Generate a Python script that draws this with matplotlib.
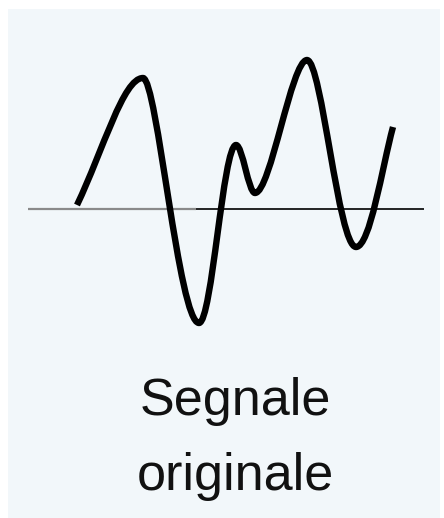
import matplotlib
matplotlib.use("Agg")
import matplotlib.pyplot as plt
from matplotlib.path import Path
from matplotlib.patches import PathPatch, Rectangle

import numpy as np

# key points of the signal (x along the panel, amplitude above the baseline)
sig_x = [77, 143, 199, 236, 255, 307, 356, 393]
sig_y = [4, 131, -114, 64, 16, 149, -38, 82]
# slope at each key point (0 at the extrema)
sig_slope = [2.1, 0, 0, 0, 0, 0, 0, 3.7]
# handle lengths (fraction of the segment) going into / out of each point
k_in = [0.0, 0.3, 0.36, 0.35, 0.35, 0.3, 0.36, 0.3]
k_out = [0.4, 0.25, 0.35, 0.35, 0.3, 0.3, 0.38, 0.0]

labels = ["Segnale", "originale"]

fig = plt.figure(figsize=(4.44, 5.18), dpi=100, facecolor="white")
ax = fig.add_axes([0, 0, 1, 1])
ax.set_xlim(0, 444)
ax.set_ylim(-309, 209)
ax.axis("off")

# light panel
ax.add_patch(Rectangle((8, -309), 432, 509, facecolor="#f2f7fa", edgecolor="none", zorder=0))

# baseline
ax.plot([28, 196], [0, 0], color="#8a8a8a", lw=1.6, zorder=1, solid_capstyle="butt")
ax.plot([196, 424], [0, 0], color="black", lw=1.2, zorder=1, solid_capstyle="butt")

# smooth curve through the key points with bezier handles
verts = [(sig_x[0], sig_y[0])]
codes = [Path.MOVETO]
for i in range(len(sig_x) - 1):
    seg = sig_x[i + 1] - sig_x[i]
    d0 = seg * k_out[i]
    d1 = seg * k_in[i + 1]
    verts.append((sig_x[i] + d0, sig_y[i] + sig_slope[i] * d0))
    verts.append((sig_x[i + 1] - d1, sig_y[i + 1] - sig_slope[i + 1] * d1))
    verts.append((sig_x[i + 1], sig_y[i + 1]))
    codes += [Path.CURVE4] * 3
curve = PathPatch(Path(verts, codes), facecolor="none", edgecolor="black",
                  lw=4.6, capstyle="butt", joinstyle="round", zorder=2)
ax.add_patch(curve)

ax.text(235, -206, labels[0], ha="center", va="baseline", fontsize=37.5,
        family="Liberation Sans", color="#111111")
ax.text(235, -281, labels[1], ha="center", va="baseline", fontsize=37.5,
        family="Liberation Sans", color="#111111")

fig.savefig("out.png", dpi=100, facecolor="white")
